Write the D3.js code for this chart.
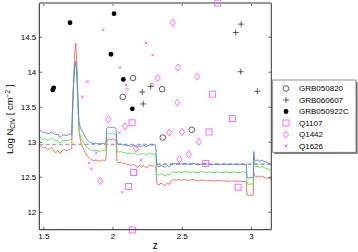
<!DOCTYPE html>
<html><head><meta charset="utf-8">
<script src="https://cdn.jsdelivr.net/npm/d3@7"></script>
<style>body{margin:0;background:#fff;} text{font-family:"Liberation Sans",Arial,Helvetica,sans-serif;}</style>
</head><body><svg id="c" width="358" height="252"></svg>
<script>
// ---- data ----
const xTicks = [1.5, 2, 2.5, 3];
const yTicks = [12, 12.5, 13, 13.5, 14, 14.5];

const zGrid = [1.470,1.485,1.500,1.515,1.530,1.545,1.560,1.575,1.590,1.605,1.620,1.635,1.650,1.665,1.680,1.695,1.705,
  1.712,1.720,1.728,1.735,1.742,1.750,1.757,1.765,
  1.775,1.790,1.805,1.820,1.835,1.850,1.865,1.880,1.895,1.910,1.925,1.940,1.952,
  1.958,1.970,1.985,2.000,2.015,2.025,
  2.032,2.045,2.060,2.075,2.090,2.105,2.120,2.135,2.150,2.165,2.180,2.195,2.210,2.225,2.240,2.255,2.270,2.285,2.300,2.312,
  2.320,2.335,2.350,2.365,2.380,2.395,2.410,2.425,2.440,2.460,2.480,2.500,2.520,2.540,2.560,2.580,2.600,2.620,2.640,2.660,2.680,2.700,2.720,2.740,2.760,2.780,2.800,2.820,2.840,2.860,2.880,2.900,2.920,2.940,2.958,2.966,
  2.972,2.985,3.000,3.012,3.017,
  3.021,3.026,
  3.035,3.050,3.065,3.080,3.095,3.110,3.125,3.140,3.147];

const blueLim = [13.17,13.15,13.13,13.14,13.11,13.12,13.14,13.12,13.10,13.11,13.06,13.09,13.10,13.09,13.10,13.11,13.11,
  13.55,13.90,14.12,14.15,14.00,13.60,13.30,13.22,
  13.17,13.12,13.06,13.02,12.99,12.98,12.97,12.98,12.97,12.97,12.98,12.97,12.98,
  13.19,13.21,13.20,13.21,13.20,13.19,
  12.98,12.96,12.97,12.95,12.96,12.94,12.95,12.93,12.95,12.94,12.92,12.94,12.93,12.95,12.93,12.94,12.96,12.95,12.96,12.95,
  12.66,12.64,12.66,12.65,12.63,12.66,12.64,12.68,12.69,12.68,12.69,12.68,12.69,12.68,12.68,12.69,12.68,12.67,12.68,12.69,12.68,12.68,12.67,12.68,12.68,12.67,12.68,12.68,12.67,12.68,12.68,12.67,12.68,12.68,12.67,12.68,
  12.49,12.48,12.49,12.48,12.50,
  12.86,12.74,
  12.73,12.74,12.72,12.74,12.72,12.71,12.70,12.68,12.68];

const greenLim = [13.07,13.05,13.03,13.04,13.02,13.03,13.05,13.03,13.01,13.02,12.98,13.01,13.02,13.01,13.02,13.03,13.03,
  13.50,13.85,14.08,14.12,13.95,13.55,13.22,13.10,
  13.04,12.99,12.94,12.91,12.89,12.88,12.87,12.88,12.87,12.86,12.88,12.87,12.88,
  13.10,13.12,13.11,13.12,13.11,13.10,
  12.87,12.85,12.86,12.84,12.85,12.83,12.84,12.82,12.84,12.83,12.81,12.83,12.82,12.83,12.81,12.82,12.84,12.82,12.83,12.82,
  12.54,12.52,12.54,12.53,12.51,12.54,12.52,12.56,12.57,12.56,12.57,12.56,12.57,12.57,12.56,12.57,12.56,12.56,12.57,12.57,12.56,12.57,12.56,12.56,12.57,12.56,12.56,12.57,12.56,12.56,12.57,12.56,12.56,12.57,12.56,12.56,
  12.40,12.39,12.40,12.39,12.41,
  12.78,12.66,
  12.64,12.65,12.63,12.65,12.63,12.62,12.61,12.60,12.60];

const redLim = [12.95,12.93,12.91,12.92,12.89,12.90,12.92,12.87,12.84,12.88,12.83,12.87,12.89,12.87,12.88,12.89,12.90,
  13.45,13.95,14.30,14.41,14.10,13.60,13.20,13.05,
  12.96,12.90,12.84,12.79,12.76,12.74,12.73,12.74,12.73,12.72,12.74,12.73,12.74,
  13.00,13.04,13.03,13.04,13.03,13.02,
  12.72,12.70,12.71,12.68,12.70,12.67,12.68,12.65,12.68,12.66,12.63,12.66,12.64,12.66,12.63,12.64,12.67,12.65,12.66,12.64,
  12.40,12.38,12.41,12.39,12.37,12.41,12.39,12.44,12.46,12.45,12.46,12.45,12.46,12.45,12.45,12.46,12.45,12.44,12.45,12.45,12.44,12.45,12.44,12.44,12.45,12.44,12.44,12.44,12.43,12.44,12.44,12.43,12.44,12.43,12.43,12.43,
  12.24,12.23,12.24,12.23,12.26,
  12.56,12.52,
  12.50,12.51,12.49,12.51,12.49,12.48,12.48,12.47,12.47];

const dashLeft = [[1.471, 12.96], [2.315, 12.96]];
const dashRight = [[2.318, 12.68], [3.147, 12.68]];

const grb050820 = [[2.148,13.91],[2.358,13.75],[2.074,13.64],[2.363,13.06],[2.572,13.17]];
const grb060607 = [[2.276,13.79],[2.215,13.71],[2.222,13.54],[2.929,14.68],[2.890,14.56],[2.926,14.00],[3.046,13.72]];
const grb050922C = [[1.568,13.74],[1.575,13.77],[1.693,14.70],[2.011,14.83],[1.989,14.25],[2.078,13.89],[2.143,13.47]];
const q1107 = [[2.760,14.98],[2.721,13.68],[2.866,13.33],[2.141,13.27],[2.152,12.56],[2.117,12.36],[2.697,13.14],[2.673,12.69],[2.907,12.35],[2.143,11.74]];
const q1442 = [[2.435,14.70],[2.473,14.06],[2.326,13.91],[2.613,13.93],[2.468,13.56],[1.970,13.32],[2.090,13.22],[1.912,12.44],[2.170,12.90],[2.410,13.13],[2.502,13.14],[2.623,13.00],[2.551,12.82],[2.483,12.75]];
const q1626 = [[1.932,14.60],[2.242,14.41],[2.290,14.24],[2.054,14.06],[1.818,13.86],[2.098,13.81],[2.107,13.75],[1.782,13.64],[2.288,13.82],[2.049,13.13],[1.883,12.84],[1.832,12.70],[1.847,12.61],[2.071,12.28],[2.208,12.74]];

const legendNames = ["GRB050820","GRB060607","GRB050922C","Q1107","Q1442","Q1626"];

// ---- chart ----
const svg = d3.select("#c");
const L = 39.3, R = 271.3, T = 3, B = 229.7;
const x = d3.scaleLinear().domain([1.471, 3.147]).range([L, R]);
const y = d3.scaleLinear().domain([11.743, 14.982]).range([B, T]);

const pink = "#ff5cff";
const shapes = {
  circle: g => g.append("circle").attr("r", 2.8).attr("fill", "none").attr("stroke", "#333").attr("stroke-width", 0.8),
  plus: g => g.append("path").attr("d", "M-3,0H3M0,-3V3").attr("stroke", "#333").attr("stroke-width", 0.8).attr("fill","none"),
  dot: g => g.append("circle").attr("r", 2.4).attr("fill", "#000"),
  square: g => g.append("rect").attr("x", -3).attr("y", -3).attr("width", 6).attr("height", 6).attr("fill", "none").attr("stroke", pink).attr("stroke-width", 0.9),
  diamond: g => g.append("path").attr("d", "M0,-3.6L2.6,0L0,3.6L-2.6,0Z").attr("fill", "none").attr("stroke", pink).attr("stroke-width", 0.9),
  times: g => g.append("path").attr("d", "M-1.4,-1.4L1.4,1.4M-1.4,1.4L1.4,-1.4").attr("stroke", pink).attr("stroke-width", 0.9).attr("fill","none")
};

svg.append("clipPath").attr("id","pc").append("rect").attr("x",L).attr("y",T).attr("width",R-L).attr("height",B-T);

const line = d3.line().x(d => x(d[0])).y(d => y(d[1]));
const lg = svg.append("g").attr("clip-path","url(#pc)");
lg.append("path").datum(dashLeft).attr("d", line).attr("fill","none").attr("stroke","#aaa").attr("stroke-width",1.6).attr("stroke-dasharray","4,2.5");
lg.append("path").datum(dashRight).attr("d", line).attr("fill","none").attr("stroke","#555").attr("stroke-width",0.9).attr("stroke-dasharray","4,2.5");

const series = [[redLim, "#f26a4f"], [greenLim, "#4fe04f"], [blueLim, "#5b7cf0"]];
series.forEach(([vals, col]) => {
  lg.append("path").datum(zGrid.map((z, i) => [z, vals[i]]))
    .attr("d", line).attr("fill","none").attr("stroke", col).attr("stroke-width", 0.9);
});

const groups = [[grb050820,"circle"],[grb060607,"plus"],[grb050922C,"dot"],[q1107,"square"],[q1442,"diamond"],[q1626,"times"]];
groups.forEach(([pts, shp]) => {
  pts.forEach(p => {
    const g = svg.append("g").attr("transform", `translate(${x(p[0])},${y(p[1])})`);
    shapes[shp](g);
  });
});

const fmt = d => String(d);
const ax = svg.append("g").attr("transform", `translate(0,${B})`)
  .call(d3.axisBottom(x).tickValues(xTicks).tickSize(-3).tickPadding(4).tickFormat(fmt));
const axTop = svg.append("g").attr("transform", `translate(0,${T})`)
  .call(d3.axisTop(x).tickValues(xTicks).tickSize(-3).tickFormat(""));
const ay = svg.append("g").attr("transform", `translate(${L},0)`)
  .call(d3.axisLeft(y).tickValues(yTicks).tickSize(-3).tickPadding(3).tickFormat(fmt));
const ayR = svg.append("g").attr("transform", `translate(${R},0)`)
  .call(d3.axisRight(y).tickValues(yTicks).tickSize(-3).tickFormat(""));
[ax, axTop, ay, ayR].forEach(a => {
  a.select(".domain").remove();
  a.selectAll(".tick line").attr("stroke", "#444").attr("stroke-width", 0.8);
  a.selectAll("text").attr("font-size", 8).attr("fill", "#000").style("font-family", '"Liberation Sans",Arial,sans-serif');
});

svg.append("line").attr("x1",L).attr("x2",R).attr("y1",B).attr("y2",B).attr("stroke","#222").attr("stroke-width",1);
svg.append("line").attr("x1",L).attr("x2",L).attr("y1",T).attr("y2",B).attr("stroke","#222").attr("stroke-width",1);
svg.append("line").attr("x1",R).attr("x2",R).attr("y1",T).attr("y2",B).attr("stroke","#333").attr("stroke-width",1);
svg.append("line").attr("x1",L).attr("x2",R).attr("y1",T).attr("y2",T).attr("stroke","#999").attr("stroke-width",2);

svg.append("text").attr("x", (L+R)/2).attr("y", 249).attr("text-anchor","middle").attr("font-size", 10).text("z");
const yl = svg.append("text").attr("transform", `translate(13,${(T+B)/2 + 3}) rotate(-90)`).attr("text-anchor","middle").attr("font-size", 9.5);
yl.append("tspan").text("Log N");
yl.append("tspan").attr("font-size", 6.5).attr("dy", 2).text("CIV");
yl.append("tspan").attr("dy", -2).text(" [ cm");
yl.append("tspan").attr("font-size", 6.5).attr("dy", -3.5).text("−2");
yl.append("tspan").attr("dy", 3.5).text(" ]");

const lgX = 272.7, lgY = 80, lgW = 83.3, lgH = 72.3;
svg.append("rect").attr("x", lgX+1.5).attr("y", lgY+1.5).attr("width", lgW).attr("height", lgH).attr("fill", "#666");
svg.append("rect").attr("x", lgX).attr("y", lgY).attr("width", lgW).attr("height", lgH).attr("fill", "#fff").attr("stroke", "#777").attr("stroke-width", 0.8);
const shpList = ["circle","plus","dot","square","diamond","times"];
legendNames.forEach((n, i) => {
  const cy = lgY + 8.5 + i * 11.5;
  const g = svg.append("g").attr("transform", `translate(286,${cy})`);
  shapes[shpList[i]](g);
  svg.append("text").attr("x", 299).attr("y", cy).attr("dy", "0.35em").attr("font-size", 8).text(n);
});
</script></body></html>
